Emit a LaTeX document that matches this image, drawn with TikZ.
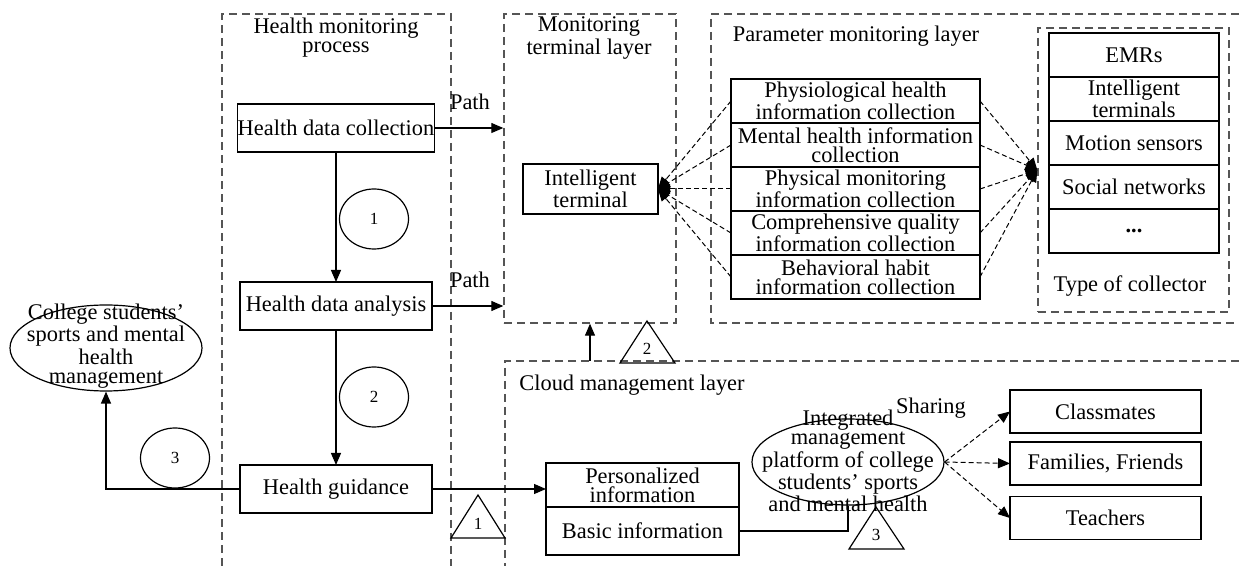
\documentclass[tikz,border=0pt]{standalone}
\usepackage{fontspec}
\setmainfont{Liberation Serif}
\usepackage{tikz}
\usetikzlibrary{shapes.geometric, arrows.meta, positioning}
\definecolor{layerGray}{RGB}{85, 85, 85}

\begin{document}
\begin{tikzpicture}[
    x=0.5pt, y=-0.5pt,
    box/.style={
        rectangle, draw, line width=0.65pt, inner sep=0pt, outer sep=0pt,
        align=center, minimum width=#1, font=\fontsize{11.2}{9.5}\selectfont
    },
    layer/.style={draw=layerGray, line width=0.7pt, dash pattern=on 4pt off 2.5pt},
    title/.style={align=center, inner sep=0pt, font=\fontsize{11.2}{9.5}\selectfont},
    oval/.style={ellipse, draw, line width=0.6pt, inner sep=0pt},
    stepmark/.style={ellipse, draw, line width=0.6pt, inner sep=0pt,
        minimum width=34.5pt, minimum height=30pt, font=\fontsize{8.5}{10}\selectfont},
    marktext/.style={inner sep=0pt, font=\fontsize{8.5}{10}\selectfont},
    arrow/.style={-{Triangle[length=6pt, width=5pt]}, line width=0.6pt},
    link/.style={-{Triangle[length=6pt, width=5pt]}, line width=0.5pt, dash pattern=on 2.5pt off 1.5pt}
]
\useasboundingbox (0,0) rectangle (1239,566);

% layers
\draw[layer] (222,566) |- (451,14) -- (451,566);
\node[layer, rectangle, inner sep=0pt, minimum width=86pt, minimum height=154.5pt] (termLayer) at (590,168.5) {};
\draw[layer] (1239,14) -| (711,323) -- (1239,323);
\node[layer, rectangle, inner sep=0pt, minimum width=95.5pt, minimum height=142pt] (collectorLayer) at (1133.5,170) {};
\draw[layer] (1239,361) -| (505,566);
\coordinate (cloudTop) at (590,361);

\node[title] (hmpTitle) at (336,38) {Health monitoring\\process};
\node[title] (termTitle) at (589,38) {Monitoring\\terminal layer};
\node[title] (paramTitle) at (856,36) {Parameter monitoring layer};
\node[title, anchor=west] (cloudTitle) at (519,385) {Cloud management layer};
\node[title] (collectorTitle) at (1130,286) {Type of collector};

% health monitoring process
\node[box=96pt, minimum height=24pt] (collect) at (336,128) {Health data collection};
\node[box=96pt, minimum height=24pt] (analysis) at (336,306) {Health data analysis};
\node[box=96pt, minimum height=24pt] (guidance) at (336,489) {Health guidance};
\node[stepmark] (stepA) at (374,219) {1};
\node[stepmark] (stepB) at (374,397) {2};
\node[stepmark] (stepC) at (175,458) {3};
\node[oval, minimum width=96pt, minimum height=43pt] (mgmt) at (106,348) {};
\node[title] (mgmtText) at (106,346) {College students'\\sports and mental\\health\\management};
\node[title] (pathA) at (470,102) {Path};
\node[title] (pathB) at (470,280) {Path};

% monitoring terminal layer
\node[box=67.5pt, minimum height=25pt] (terminal) at (590.5,189) {Intelligent\\terminal};

% parameter monitoring layer
\node[box=124.5pt, minimum height=22pt] (infoA) at (855.5,101) {Physiological health\\information collection};
\node[box=124.5pt, minimum height=22pt, below=0pt of infoA] (infoB) {Mental health information\\collection};
\node[box=124.5pt, minimum height=22pt, below=0pt of infoB] (infoC) {Physical monitoring\\information collection};
\node[box=124.5pt, minimum height=22pt, below=0pt of infoC] (infoD) {Comprehensive quality\\information collection};
\node[box=124.5pt, minimum height=22pt, below=0pt of infoD] (infoE) {Behavioral habit\\information collection};

\node[box=85pt, minimum height=22pt] (emr) at (1134,55) {EMRs};
\node[box=85pt, minimum height=22pt, below=0pt of emr] (smartTerm) {Intelligent\\terminals};
\node[box=85pt, minimum height=22pt, below=0pt of smartTerm] (motion) {Motion sensors};
\node[box=85pt, minimum height=22pt, below=0pt of motion] (social) {Social networks};
\node[box=85pt, minimum height=22pt, below=0pt of social] (more) {\textbf{...}};

% cloud management layer
\node[box=96.5pt, minimum height=22pt] (personal) at (642.5,485) {Personalized\\information};
\node[box=96.5pt, minimum height=24pt, below=0pt of personal] (basic) {Basic information};
\node[oval, minimum width=96pt, minimum height=43pt] (platform) at (848,462) {};
\node[title] (platformText) at (848,461) {Integrated\\management\\platform of college\\students’ sports\\and mental health};
\node[title] (sharing) at (931,408) {Sharing};
\node[box=95.5pt, minimum height=21.5pt] (classmates) at (1105.5,411.5) {Classmates};
\node[box=95.5pt, minimum height=21.5pt] (families) at (1105.5,463.5) {Families, Friends};
\node[box=95.5pt, minimum height=21.5pt] (teachers) at (1105.5,518) {Teachers};

% triangles
\draw[line width=0.6pt] (451,538) -- (478,495) -- (505,538) -- cycle;
\node[marktext] (triA) at (478,524) {1};
\draw[line width=0.6pt] (620,363) -- (647,321) -- (675,363) -- cycle;
\node[marktext] (triB) at (647,349) {2};
\draw[line width=0.6pt] (849,549) -- (876,507) -- (904,549) -- cycle;
\node[marktext] (triC) at (876,535) {3};

% connectors
\draw[arrow] (collect.east) -- (collect.east -| termLayer.west);
\draw[arrow] (analysis.east) -- (analysis.east -| termLayer.west);
\draw[arrow] (collect.south) -- (analysis.north);
\draw[arrow] (analysis.south) -- (guidance.north);
\draw[arrow] (guidance.west) -| (mgmt.south);
\draw[arrow] (guidance.east) -- (guidance.east -| personal.west);
\draw[arrow] (cloudTop) -- (termLayer.south);
\draw[line width=0.6pt] (basic.east) -| (platform.south);

\draw[link] (infoA.west) -- (terminal.east);
\draw[link] (infoB.west) -- (terminal.east);
\draw[link] (infoC.west) -- (terminal.east);
\draw[link] (infoD.west) -- (terminal.east);
\draw[link] (infoE.west) -- (terminal.east);
\draw[link] (infoA.east) -- (collectorLayer.west);
\draw[link] (infoB.east) -- (collectorLayer.west);
\draw[link] (infoC.east) -- (collectorLayer.west);
\draw[link] (infoD.east) -- (collectorLayer.west);
\draw[link] (infoE.east) -- (collectorLayer.west);

\draw[link] (platform.east) -- (classmates.west);
\draw[link] (platform.east) -- (families.west);
\draw[link] (platform.east) -- (teachers.west);
\end{tikzpicture}
\end{document}
